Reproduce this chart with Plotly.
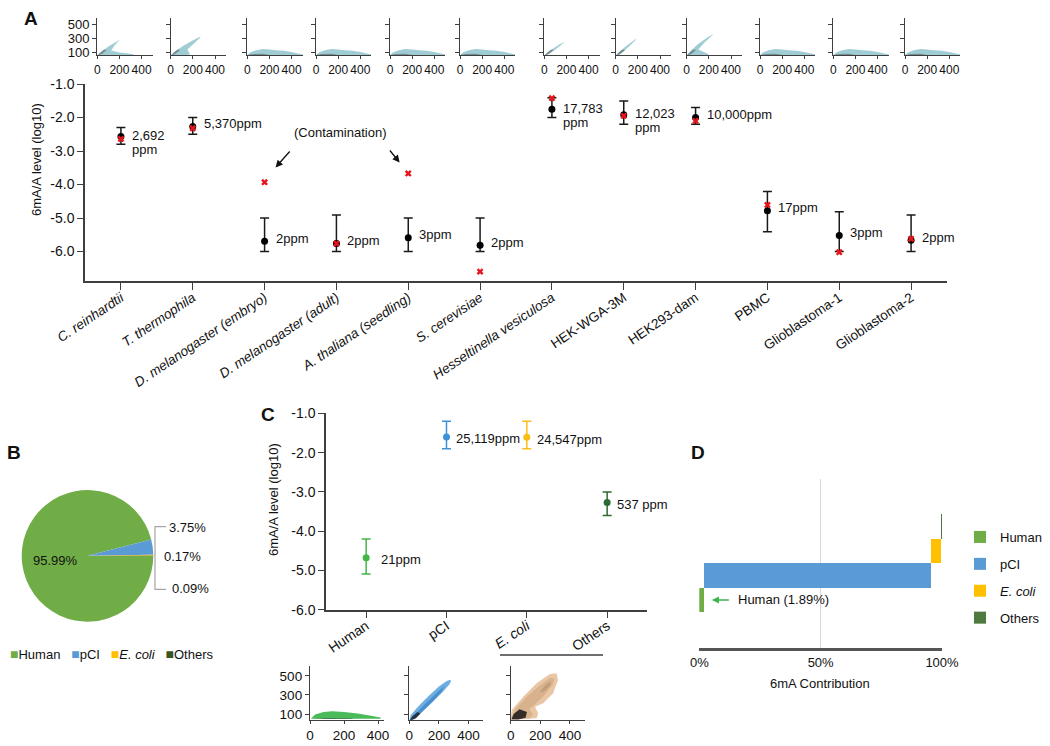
import plotly.graph_objects as go

W, H = 1050, 746
def fx(p): return p / W
def fy(p): return 1 - p / H

FONT = "Liberation Sans, Arial, Helvetica, sans-serif"
AXC = "#3f3f3f"
TXT = "#111111"

# ---------------- Panel A data ----------------
A_categories = [
    "<i>C. reinhardtii</i>", "<i>T. thermophila</i>", "<i>D. melanogaster (embryo)</i>",
    "<i>D. melanogaster (adult)</i>", "<i>A. thaliana (seedling)</i>", "<i>S. cerevisiae</i>",
    "<i>Hesseltinella vesiculosa</i>", "HEK-WGA-3M", "HEK293-dam", "PBMC",
    "Glioblastoma-1", "Glioblastoma-2",
]
A_mean = [-2.57, -2.27, -5.69, -5.76, -5.59, -5.81, -1.75, -1.92, -2.00, -4.78, -5.52, -5.66]
A_err_top = [-2.30, -2.00, -5.00, -4.91, -5.00, -5.00, -1.41, -1.51, -1.70, -4.21, -4.81, -4.91]
A_err_bottom = [-2.80, -2.50, -6.00, -6.00, -6.00, -6.00, -2.00, -2.20, -2.20, -5.41, -6.00, -6.00]
A_red_x = [-2.64, -2.32, -3.93, -5.76, -3.67, -6.60, -1.42, -1.95, -2.10, -4.61, -6.02, -5.62]
A_ppm_labels = ["2,692<br>ppm", "5,370ppm", "2ppm", "2ppm", "3ppm", "2ppm",
                "17,783<br>ppm", "12,023<br>ppm", "10,000ppm", "17ppm", "3ppm", "2ppm"]
A_ytick_vals = [-1, -2, -3, -4, -5, -6]
A_ytick_text = ["-1.0", "-2.0", "-3.0", "-4.0", "-5.0", "-6.0"]

MINI_xtick_vals = [0, 200, 400]
MINI_ytick_vals = [100, 300, 500]

# density outlines (x = length, y = signal)
V_X = [5, 40, 100, 160, 200, 210, 195, 150, 125, 200, 280, 330, 320, 5]
V_Y = [62, 110, 180, 240, 278, 286, 265, 185, 125, 95, 82, 70, 62, 62]
T_X = [5, 40, 110, 190, 250, 272, 262, 210, 150, 175, 150, 5]
T_Y = [62, 110, 190, 260, 310, 325, 303, 225, 140, 72, 62, 62]
HS_X = [5, 30, 80, 140, 170, 180, 165, 110, 60, 30, 5]
HS_Y = [62, 97, 155, 212, 238, 243, 220, 150, 95, 64, 62]
WG_X = [5, 30, 90, 150, 180, 190, 175, 120, 70, 35, 5]
WG_Y = [62, 102, 183, 252, 285, 292, 265, 180, 110, 64, 62]
DM_X = [5, 30, 100, 180, 225, 240, 225, 160, 105, 200, 190, 5]
DM_Y = [62, 112, 212, 302, 345, 357, 330, 240, 140, 72, 62, 62]
HUMP_X = [0, 30, 80, 140, 200, 260, 330, 400, 460, 500, 500, 0]
HUMP_Y = [62, 100, 130, 145, 140, 130, 122, 105, 82, 68, 62, 62]
DIAG_CORE_X = [5, 25, 60, 85, 50, 20, 5]
DIAG_CORE_Y = [62, 92, 140, 132, 85, 62, 62]
HUMP_CORE_X = [5, 50, 140, 200, 140, 5]
HUMP_CORE_Y = [62, 76, 79, 64, 62, 62]

A_dens_x = [V_X, T_X, HUMP_X, HUMP_X, HUMP_X, HUMP_X, HS_X, WG_X, DM_X, HUMP_X, HUMP_X, HUMP_X]
A_dens_y = [V_Y, T_Y, HUMP_Y, HUMP_Y, HUMP_Y, HUMP_Y, HS_Y, WG_Y, DM_Y, HUMP_Y, HUMP_Y, HUMP_Y]
A_core_x = [DIAG_CORE_X, DIAG_CORE_X, HUMP_CORE_X, HUMP_CORE_X, HUMP_CORE_X, HUMP_CORE_X,
            DIAG_CORE_X, DIAG_CORE_X, DIAG_CORE_X, HUMP_CORE_X, HUMP_CORE_X, HUMP_CORE_X]
A_core_y = [DIAG_CORE_Y, DIAG_CORE_Y, HUMP_CORE_Y, HUMP_CORE_Y, HUMP_CORE_Y, HUMP_CORE_Y,
            DIAG_CORE_Y, DIAG_CORE_Y, DIAG_CORE_Y, HUMP_CORE_Y, HUMP_CORE_Y, HUMP_CORE_Y]

# ---------------- Panel B data ----------------
B_groups = ["Human", "pCI", "<i>E. coli</i>", "Others"]
B_share = [95.99, 3.75, 0.17, 0.09]
B_colors = ["#70ad47", "#5b9bd5", "#ffc000", "#375623"]

# ---------------- Panel C data ----------------
C_categories = ["Human", "pCI", "<i>E. coli</i>", "Others"]
C_mean = [-4.68, -1.60, -1.61, -3.27]
C_err_top = [-4.20, -1.20, -1.20, -3.00]
C_err_bottom = [-5.09, -1.90, -1.90, -3.60]
C_ppm_labels = ["21ppm", "25,119ppm", "24,547ppm", "537 ppm"]
C_colors = ["#43b649", "#3f92d6", "#fbbd15", "#2d6a35"]
C_ytick_vals = [-1, -2, -3, -4, -5, -6]
C_ytick_text = ["-1.0", "-2.0", "-3.0", "-4.0", "-5.0", "-6.0"]

GH_X = [5, 30, 80, 130, 200, 280, 350, 415, 415, 5]
GH_Y = [50, 95, 120, 130, 122, 105, 85, 62, 50, 50]
GH_CORE_X = [20, 100, 250, 250, 20]
GH_CORE_Y = [50, 58, 56, 50, 50]
BL_X = [0, 10, 60, 130, 200, 250, 275, 282, 270, 230, 160, 90, 40, 15, 0]
BL_Y = [37, 90, 180, 290, 390, 445, 460, 445, 410, 340, 230, 130, 60, 37, 37]
BL_MID_X = [5, 40, 110, 190, 240, 215, 150, 80, 35, 5]
BL_MID_Y = [40, 100, 210, 330, 400, 330, 220, 110, 45, 40]
BL_CORE_X = [5, 20, 55, 75, 45, 15, 5]
BL_CORE_Y = [40, 75, 120, 105, 55, 38, 40]
EC_X = [0, 7, 85, 175, 265, 310, 320, 287, 220, 164, 186, 175, 7, 0]
EC_Y = [40, 142, 282, 423, 521, 528, 458, 318, 213, 177, 107, 55, 40, 40]
EC_MID_X = [5, 30, 110, 200, 270, 295, 285, 225, 160, 125, 150, 130, 5]
EC_MID_Y = [45, 150, 285, 405, 480, 470, 410, 295, 195, 150, 100, 55, 45]
EC_BLOB_X = [205, 245, 275, 262, 225, 200, 205]
EC_BLOB_Y = [350, 420, 440, 390, 335, 330, 350]
EC_CORE_X = [5, 20, 60, 110, 100, 50, 5]
EC_CORE_Y = [45, 100, 150, 120, 60, 42, 45]

C_dens_layers = [
    [(GH_X, GH_Y, "rgba(60,180,75,0.92)"), (GH_CORE_X, GH_CORE_Y, "rgba(40,70,40,0.85)")],
    [(BL_X, BL_Y, "rgba(95,165,222,0.9)"), (BL_MID_X, BL_MID_Y, "rgba(55,130,195,0.7)"),
     (BL_CORE_X, BL_CORE_Y, "rgba(30,35,40,0.85)")],
    [(EC_X, EC_Y, "rgba(232,196,160,0.95)"), (EC_MID_X, EC_MID_Y, "rgba(210,172,135,0.8)"),
     (EC_BLOB_X, EC_BLOB_Y, "rgba(185,150,120,0.7)"), (EC_CORE_X, EC_CORE_Y, "rgba(35,30,28,0.9)")],
]

# ---------------- Panel D data ----------------
D_groups = ["Human", "pCI", "<i>E. coli</i>", "Others"]
D_contrib = [1.89, 93.75, 4.16, 0.20]
D_colors = ["#70ad47", "#5b9bd5", "#ffc000", "#4f7a3f"]
D_tick_vals = [0, 50, 100]
D_tick_text = ["0%", "50%", "100%"]

fig = go.Figure()
annotations = []
shapes = []
layout = dict(
    template="none",
    width=W, height=H, margin=dict(l=0, r=0, t=0, b=0, pad=0, autoexpand=False),
    paper_bgcolor="white", plot_bgcolor="white",
    font=dict(family=FONT, size=13, color=TXT),
    bargap=0, showlegend=True,
)

def paper_text(x, y, text, size=13, xanchor="center", yanchor="middle", **kw):
    d = dict(x=fx(x), y=fy(y), xref="paper", yref="paper", text=text, showarrow=False,
             xanchor=xanchor, yanchor=yanchor, font=dict(size=size))
    d.update(kw)
    annotations.append(d)

# ---- Panel A minis ----
A_mini_left = [97.3, 170.7, 247.3, 316, 390, 460, 544.3, 615.7, 686.7, 760, 833.3, 905]
for i, left in enumerate(A_mini_left):
    n = 4 + i
    fig.add_trace(go.Scatter(x=A_dens_x[i], y=A_dens_y[i], fill="toself", mode="none",
                             fillcolor="rgba(120,182,192,0.7)", xaxis=f"x{n}", yaxis=f"y{n}",
                             hoverinfo="skip", showlegend=False))
    fig.add_trace(go.Scatter(x=A_core_x[i], y=A_core_y[i], fill="toself", mode="none",
                             fillcolor="rgba(70,80,85,0.5)", xaxis=f"x{n}", yaxis=f"y{n}",
                             hoverinfo="skip", showlegend=False))
    layout[f"xaxis{n}"] = dict(domain=[fx(left), fx(left + 55.4)], anchor=f"y{n}", range=[0, 500],
                               tickvals=MINI_xtick_vals, tickangle=0, ticks="outside", ticklen=3,
                               tickcolor=AXC, showline=True, linecolor=AXC, linewidth=1.3,
                               showgrid=False, zeroline=False, tickfont=dict(size=12),
                               automargin=False)
    layout[f"yaxis{n}"] = dict(domain=[fy(55), fy(18)], anchor=f"x{n}", range=[61, 586],
                               tickvals=MINI_ytick_vals, ticks="outside", ticklen=4, tickcolor=AXC,
                               showline=True, linecolor=AXC, linewidth=1.3, showgrid=False,
                               zeroline=False, showticklabels=(i == 0), tickfont=dict(size=13),
                               automargin=False)

# ---- Panel A main ----
fig.add_trace(go.Scatter(
    x=A_categories, y=A_mean, mode="markers", xaxis="x", yaxis="y",
    marker=dict(color="black", size=7),
    error_y=dict(type="data", symmetric=False,
                 array=[t - m for t, m in zip(A_err_top, A_mean)],
                 arrayminus=[m - b for m, b in zip(A_mean, A_err_bottom)],
                 color="#1a1a1a", thickness=1.5, width=4.5),
    showlegend=False, hoverinfo="x+y"))
fig.add_trace(go.Scatter(
    x=A_categories, y=A_red_x, mode="markers", xaxis="x", yaxis="y",
    marker=dict(color="#e8141c", size=6, symbol="x", line=dict(width=0)),
    showlegend=False, hoverinfo="x+y"))
layout["xaxis"] = dict(domain=[fx(85), fx(947)], anchor="y", type="category",
                       categoryorder="array", categoryarray=A_categories, range=[-0.5, 11.5],
                       showline=True, linecolor=AXC, linewidth=1.5, ticks="outside", ticklen=7,
                       tickcolor=AXC, tickwidth=1.2, tickangle=-34, tickfont=dict(size=13.5),
                       ticklabelstandoff=-5,
                       showgrid=False, zeroline=False, automargin=False)
layout["yaxis"] = dict(domain=[fy(281), fy(84)], anchor="x", range=[-6.88, -0.999],
                       tickvals=A_ytick_vals, ticktext=A_ytick_text, showline=True, linecolor=AXC,
                       linewidth=1.5, ticks="outside", ticklen=6, tickcolor=AXC, tickwidth=1.2,
                       showgrid=False, zeroline=False, tickfont=dict(size=14), automargin=False)
for i, lab in enumerate(A_ppm_labels):
    lines = lab.split("<br>")
    base = 3 if len(lines) == 1 else 1
    for k, line in enumerate(lines):
        annotations.append(dict(x=i, y=A_mean[i], xref="x", yref="y", text=line, showarrow=False,
                                xanchor="left", yanchor="middle", xshift=9, yshift=base - 14 * k,
                                font=dict(size=13)))
paper_text(36, 160, "6mA/A level (log10)", textangle=-90)
annotations.append(dict(x=3.05, y=-2.44, xref="x", yref="y", text="(Contamination)", showarrow=False,
                        xanchor="center", yanchor="middle", font=dict(size=13)))
annotations.append(dict(x=2.153, y=-3.49, ax=2.368, ay=-2.97, xref="x", yref="y", axref="x", ayref="y",
                        text="", showarrow=True, arrowhead=2, arrowsize=1.1, arrowwidth=1.3,
                        arrowcolor="#111"))
annotations.append(dict(x=3.88, y=-3.34, ax=3.727, ay=-2.94, xref="x", yref="y", axref="x", ayref="y",
                        text="", showarrow=True, arrowhead=2, arrowsize=1.1, arrowwidth=1.3,
                        arrowcolor="#111"))

# ---- Panel B pie ----
fig.add_trace(go.Pie(values=B_share, labels=B_groups, sort=False, direction="clockwise", rotation=90,
                     marker=dict(colors=B_colors, line=dict(width=0)), textinfo="none",
                     domain=dict(x=[fx(21.7), fx(153.3)], y=[fy(621.7), fy(490)]),
                     showlegend=False, hoverinfo="label+value"))
paper_text(55, 560, f"{B_share[0]:.2f}%")
for val, (lx, ly) in zip(B_share[1:], [(167, 527), (162, 556), (170, 588)]):
    paper_text(lx, ly, f"{val:.2f}%", xanchor="left")
shapes.append(dict(type="path", xref="paper", yref="paper",
                   path=f"M {fx(166)},{fy(526.7)} L {fx(155)},{fy(526.7)} L {fx(155)},{fy(589.3)} "
                        f"L {fx(166)},{fy(589.3)}",
                   line=dict(color="#a6a6a6", width=1.2)))
legend_b = "   ".join(
    f'<span style="color:{c};font-size:14px">■</span>{g}' for g, c in zip(B_groups, B_colors))
paper_text(8, 654, legend_b, xanchor="left")

# ---- Panel C main ----
for j, cat in enumerate(C_categories):
    fig.add_trace(go.Scatter(
        x=[cat], y=[C_mean[j]], mode="markers", xaxis="x2", yaxis="y2",
        marker=dict(color=C_colors[j], size=7),
        error_y=dict(type="data", symmetric=False, array=[C_err_top[j] - C_mean[j]],
                     arrayminus=[C_mean[j] - C_err_bottom[j]], color=C_colors[j],
                     thickness=1.5, width=4.5),
        showlegend=False, hoverinfo="x+y"))
C_label_dx = [13, 8, 8, 8]
for j, lab in enumerate(C_ppm_labels):
    annotations.append(dict(x=j, y=C_mean[j], xref="x2", yref="y2", text=lab, showarrow=False,
                            xanchor="left", yanchor="middle", xshift=C_label_dx[j], yshift=-2,
                            font=dict(size=13)))
layout["xaxis2"] = dict(domain=[fx(326), fx(647.3)], anchor="y2", type="category",
                        categoryorder="array", categoryarray=C_categories, range=[-0.5, 3.5],
                        showline=True, linecolor=AXC, linewidth=1.5, ticks="outside", ticklen=7,
                        tickcolor=AXC, tickwidth=1.2, tickangle=-34, tickfont=dict(size=14),
                        ticklabelstandoff=-6,
                        showgrid=False, zeroline=False, automargin=False)
layout["yaxis2"] = dict(domain=[fy(609.7), fy(413.3)], anchor="x2", range=[-6.0, -0.999],
                        tickvals=C_ytick_vals, ticktext=C_ytick_text, showline=True, linecolor=AXC,
                        linewidth=1.5, ticks="outside", ticklen=6, tickcolor=AXC, tickwidth=1.2,
                        showgrid=False, zeroline=False, tickfont=dict(size=14), automargin=False)
paper_text(273, 500, "6mA/A level (log10)", textangle=-90)
shapes.append(dict(type="line", xref="paper", yref="paper", x0=fx(500), x1=fx(603), y0=fy(655),
                   y1=fy(655), line=dict(color=AXC, width=1.5)))

# ---- Panel C minis ----
C_mini_left = [310, 409.3, 510.7]
C_mini_xmax = [435, 500, 500]
for j, left in enumerate(C_mini_left):
    n = 16 + j
    for (px_, py_, col) in C_dens_layers[j]:
        fig.add_trace(go.Scatter(x=px_, y=py_, fill="toself", mode="none", fillcolor=col,
                                 xaxis=f"x{n}", yaxis=f"y{n}", hoverinfo="skip", showlegend=False))
    layout[f"xaxis{n}"] = dict(domain=[fx(left), fx(left + 74)], anchor=f"y{n}",
                               range=[0, C_mini_xmax[j]], tickvals=MINI_xtick_vals, tickangle=0,
                               ticks="outside", ticklen=3, tickcolor=AXC, showline=True,
                               linecolor=AXC, linewidth=1.3, showgrid=False, zeroline=False,
                               tickfont=dict(size=13.5), automargin=False)
    layout[f"yaxis{n}"] = dict(domain=[fy(720), fy(665.7)], anchor=f"x{n}", range=[37, 608],
                               tickvals=MINI_ytick_vals, ticks="outside", ticklen=4, tickcolor=AXC,
                               showline=True, linecolor=AXC, linewidth=1.3, showgrid=False,
                               zeroline=False, showticklabels=(j == 0), tickfont=dict(size=13.5),
                               automargin=False)

# ---- Panel D ----
cum = 0.0
for i, g in enumerate(D_groups):
    fig.add_trace(go.Bar(x=[D_contrib[i]], y=[i], base=[cum], orientation="h", width=[1],
                         marker=dict(color=D_colors[i], line=dict(width=0)), name=g,
                         xaxis="x3", yaxis="y3", legendgroup=f"g{i}", showlegend=True,
                         hoverinfo="name+x"))
    cum += D_contrib[i]
layout["xaxis3"] = dict(domain=[fx(699.3), fx(942)], anchor="y3", range=[0, 100],
                        tickvals=D_tick_vals, ticktext=D_tick_text, showgrid=True, gridcolor="#d9d9d9",
                        gridwidth=1.3, showline=True, linecolor="#555555", linewidth=2.5, ticks="",
                        zeroline=False, tickfont=dict(size=13), automargin=False)
layout["yaxis3"] = dict(domain=[fy(648.3), fy(479)], anchor="x3", range=[-1.98, 4.95], visible=False,
                        automargin=False)
paper_text(820, 683, "6mA Contribution")
annotations.append(dict(x=5.2, y=0, ax=12.8, ay=0, xref="x3", yref="y3", axref="x3", ayref="y3",
                        text="", showarrow=True, arrowhead=2, arrowsize=1, arrowwidth=1.4,
                        arrowcolor="#3cb44b"))
annotations.append(dict(x=15.3, y=0, xref="x3", yref="y3", text=f"Human ({D_contrib[0]:.2f}%)",
                        showarrow=False, xanchor="left", yanchor="middle", font=dict(size=13)))
layout["legend"] = dict(x=fx(960), y=fy(522), xanchor="left", yanchor="top", traceorder="grouped",
                        tracegroupgap=7, font=dict(size=13), bgcolor="rgba(0,0,0,0)")

# ---- Panel letters ----
for letter, (lx, ly) in zip(["A", "B", "C", "D"], [(31, 18), (14, 453), (267.5, 414), (697.5, 452.5)]):
    paper_text(lx, ly, f"<b>{letter}</b>", size=19)

layout["annotations"] = annotations
layout["shapes"] = shapes
fig.update_layout(**layout)
fig.write_html("out.html", config={"displayModeBar": False},
               post_script="document.body.style.margin='0px';document.body.style.overflow='hidden';")
